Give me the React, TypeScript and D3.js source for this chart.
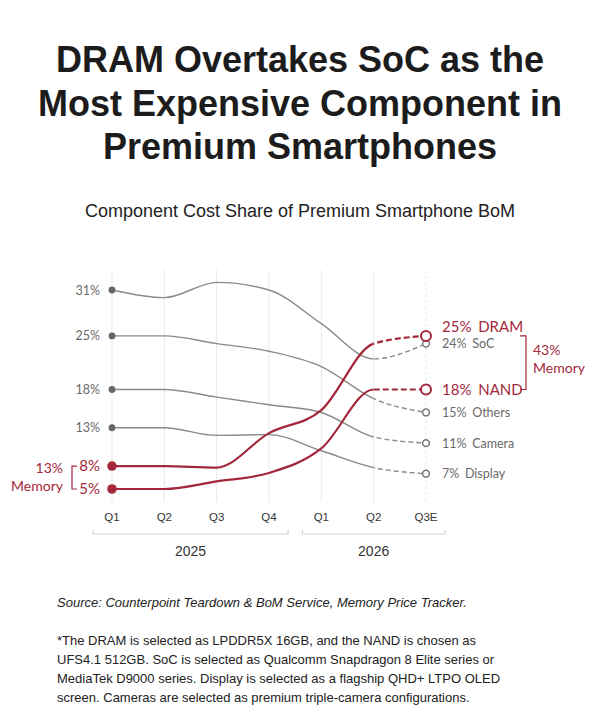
import React from 'react';
import * as d3 from 'd3';

// Chart content
const titleLines = ['DRAM Overtakes SoC as the', 'Most Expensive Component in', 'Premium Smartphones'];
const subtitle = 'Component Cost Share of Premium Smartphone BoM';
const sourceNote = 'Source: Counterpoint Teardown & BoM Service, Memory Price Tracker.';
const footnoteLines = [
  '*The DRAM is selected as LPDDR5X 16GB, and the NAND is chosen as',
  'UFS4.1 512GB. SoC is selected as Qualcomm Snapdragon 8 Elite series or',
  'MediaTek D9000 series. Display is selected as a flagship QHD+ LTPO OLED',
  'screen. Cameras are selected as premium triple-camera configurations.',
];

const quarters = ['Q1', 'Q2', 'Q3', 'Q4', 'Q1', 'Q2', 'Q3E'];
const years = ['2025', '2026'];
const yearSpans = [[0, 3], [4, 6]];
const forecastFrom = 5; // dashed from 2026 Q2 to Q3E

// cost share, % of BoM
const socShare = [31, 30, 32, 31, 26.6, 22, 24];
const othersShare = [25, 25, 24, 23, 21, 16.8, 15];
const cameraShare = [18, 18, 17, 16, 15, 11.8, 11];
const displayShare = [13, 13, 12, 12.1, 10, 7.8, 7];
const dramShare = [8, 8, 7.8, 12.3, 15.3, 24, 25];
const nandShare = [5, 5, 6, 7.1, 10.3, 18, 18];

const componentNames = ['SoC', 'Others', 'Camera', 'Display', 'DRAM', 'NAND'];
const componentShares = [socShare, othersShare, cameraShare, displayShare, dramShare, nandShare];
const memoryComponents = ['DRAM', 'NAND'];

const RED = '#a3283b';
const GRAY_LINE = '#8a8a8a';
const GRAY_TEXT = '#6a6a6a';
const SANS = '"Liberation Sans", Arial, sans-serif';
const LABEL_FONT = 'Lato, "Liberation Sans", Arial, sans-serif';

const W = 600;
const H = 728;

export default function App() {
  const idx = d3.range(quarters.length);
  const x = d3.scalePoint<number>().domain(idx).range([112, 426]);
  const y = d3.scaleLinear().domain([5, 31]).range([489, 290]);
  const xs = (i: number) => x(i) as number;
  const splitX = xs(forecastFrom);

  const line = d3
    .line<number>()
    .x((_, i) => xs(i))
    .y((v) => y(v))
    .curve(d3.curveMonotoneX);

  const isMem = (name: string) => memoryComponents.includes(name);
  // grey lines underneath, memory lines on top
  const order = componentNames
    .map((_, i) => i)
    .sort((a, b) => Number(isMem(componentNames[a])) - Number(isMem(componentNames[b])));

  const last = quarters.length - 1;
  const memStart = memoryComponents.reduce((s, n) => s + componentShares[componentNames.indexOf(n)][0], 0);
  const memEnd = memoryComponents.reduce((s, n) => s + componentShares[componentNames.indexOf(n)][last], 0);
  const dramEndY = y(dramShare[last]);
  const nandEndY = y(nandShare[last]);
  const dramStartY = y(dramShare[0]);
  const nandStartY = y(nandShare[0]);

  return (
    <>
      <style>{'body{margin:0;background:#fff}'}</style>
      <svg width={W} height={H} viewBox={`0 0 ${W} ${H}`} style={{ display: 'block', background: '#fff' }}>
        <defs>
          <clipPath id="actual-clip">
            <rect x={0} y={0} width={splitX} height={H} />
          </clipPath>
          <clipPath id="forecast-clip">
            <rect x={splitX} y={0} width={W - splitX} height={H} />
          </clipPath>
        </defs>

        {/* Title */}
        {titleLines.map((t, i) => (
          <text key={t} x={W / 2} y={72 + i * 43.5} textAnchor="middle" fontFamily={SANS} fontWeight="bold" fontSize={36} fill="#1c1c1c">
            {t}
          </text>
        ))}
        <text x={W / 2} y={217} textAnchor="middle" fontFamily={SANS} fontSize={18} fill="#222">
          {subtitle}
        </text>

        {/* vertical grid */}
        {idx.map((i) => (
          <line
            key={i}
            x1={xs(i)}
            x2={xs(i)}
            y1={270}
            y2={502}
            stroke="#e9e9e9"
            strokeWidth={1}
            strokeDasharray={i === last ? '3,3' : undefined}
          />
        ))}

        {/* series */}
        {order.map((k) => {
          const name = componentNames[k];
          const vals = componentShares[k];
          const mem = isMem(name);
          const color = mem ? RED : GRAY_LINE;
          const d = line(vals) || '';
          return (
            <g key={name}>
              <path d={d} fill="none" stroke={color} strokeWidth={mem ? 2.2 : 1.4} clipPath="url(#actual-clip)" />
              <path
                d={d}
                fill="none"
                stroke={color}
                strokeWidth={mem ? 2.2 : 1.4}
                strokeDasharray={mem ? '6,3' : '5,3'}
                clipPath="url(#forecast-clip)"
              />
              <circle cx={xs(0)} cy={y(vals[0])} r={mem ? 4.8 : 3.4} fill={mem ? RED : '#666'} />
              <circle cx={xs(last)} cy={y(vals[last])} r={mem ? 5 : 3.4} fill="#fff" stroke={mem ? RED : '#777'} strokeWidth={mem ? 2 : 1.5} />
              <text
                x={100}
                y={y(vals[0])}
                dy="0.36em"
                textAnchor="end"
                fontFamily={LABEL_FONT}
                fontSize={mem ? 15 : 12.5}
                fill={mem ? RED : GRAY_TEXT}
              >
                {`${vals[0]}%`}
              </text>
              <text
                x={442}
                y={y(vals[last]) + (name === 'DRAM' ? -9 : 0)}
                dy="0.36em"
                fontFamily={LABEL_FONT}
                fontSize={mem ? 15 : 12.5}
                fill={mem ? RED : GRAY_TEXT}
              >
                {`${vals[last]}%`}
                <tspan dx="0.45em">{name}</tspan>
              </text>
            </g>
          );
        })}

        {/* memory brackets */}
        <path d={`M77,${dramStartY} H72 V${nandStartY} H77`} fill="none" stroke={RED} strokeWidth={1.2} />
        <text x={63} y={473} textAnchor="end" fontFamily={LABEL_FONT} fontSize={14} fill={RED}>
          {`${memStart}%`}
        </text>
        <text x={63} y={491} textAnchor="end" fontFamily={LABEL_FONT} fontSize={14} fill={RED}>
          Memory
        </text>
        <path d={`M520,${dramEndY} H526 V${nandEndY} H520`} fill="none" stroke={RED} strokeWidth={1.2} />
        <text x={533} y={355} fontFamily={LABEL_FONT} fontSize={14} fill={RED}>
          {`${memEnd}%`}
        </text>
        <text x={533} y={373} fontFamily={LABEL_FONT} fontSize={14} fill={RED}>
          Memory
        </text>

        {/* x axis */}
        {quarters.map((q, i) => (
          <text key={i} x={xs(i)} y={521} textAnchor="middle" fontFamily={SANS} fontSize={11.5} fill="#333">
            {q}
          </text>
        ))}
        {years.map((yr, j) => {
          const x1 = xs(yearSpans[j][0]) - 19;
          const x2 = xs(yearSpans[j][1]) + 19;
          return (
            <g key={yr}>
              <path d={`M${x1},530 V534 H${x2} V530`} fill="none" stroke="#d2d2d2" strokeWidth={1.2} />
              <text x={(x1 + x2) / 2} y={556} textAnchor="middle" fontFamily={SANS} fontSize={14} fill="#333">
                {yr}
              </text>
            </g>
          );
        })}

        {/* notes */}
        <text x={57} y={607} fontFamily={SANS} fontStyle="italic" fontSize={13} fill="#222">
          {sourceNote}
        </text>
        {footnoteLines.map((t, i) => (
          <text key={i} x={57} y={645 + i * 19} fontFamily={SANS} fontSize={13} fill="#222">
            {t}
          </text>
        ))}
      </svg>
    </>
  );
}
